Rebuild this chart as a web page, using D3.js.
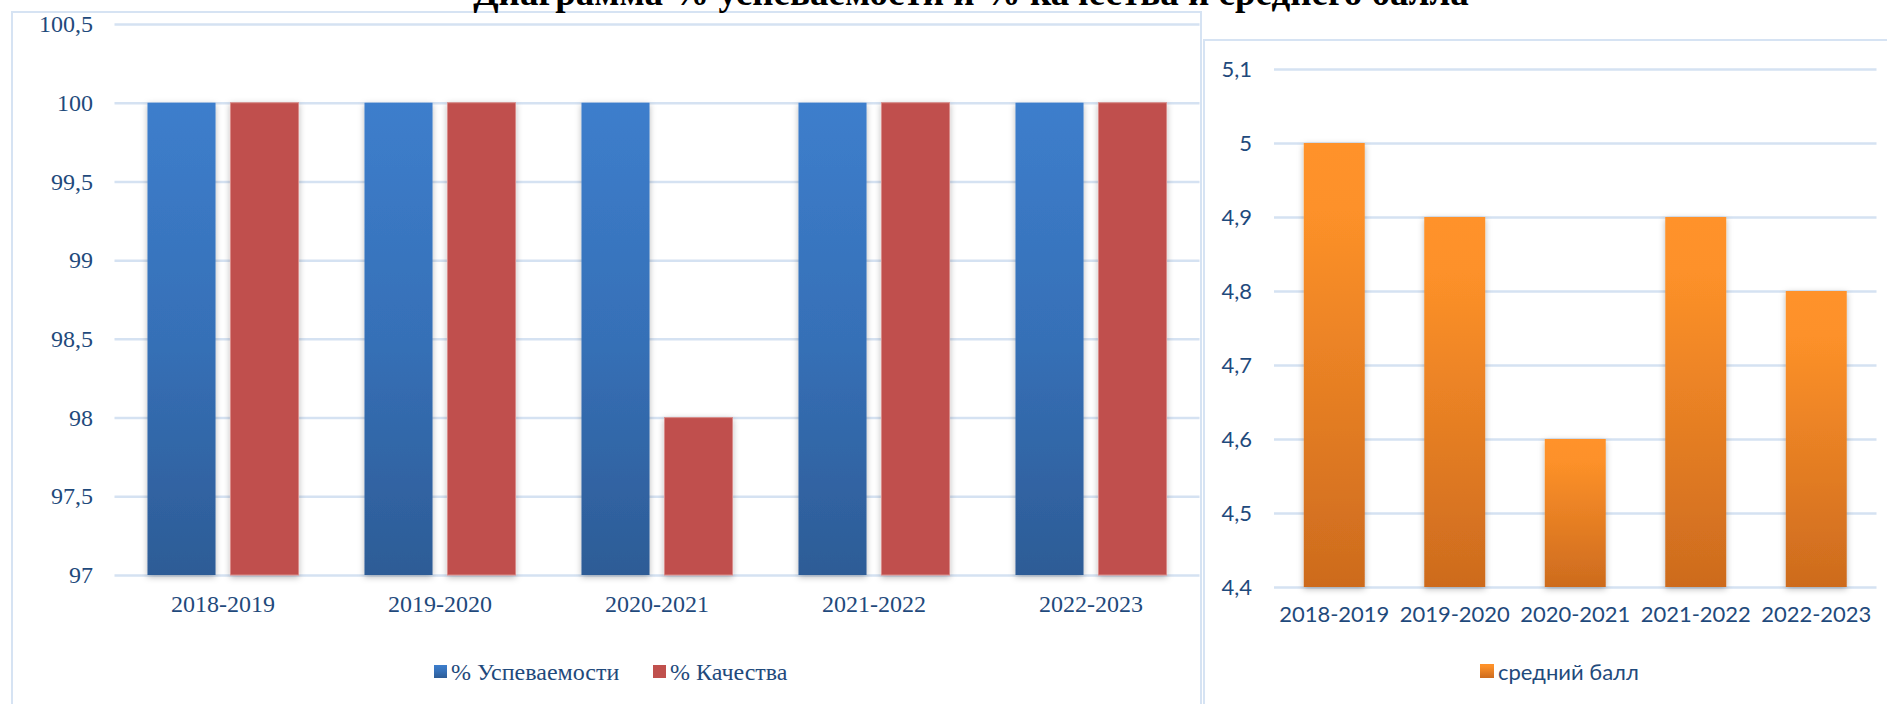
<!DOCTYPE html>
<html><head><meta charset="utf-8">
<script src="https://cdn.jsdelivr.net/npm/d3@7"></script>
<style>
html,body{margin:0;padding:0;background:#fff;overflow:hidden;}
svg{display:block;}
</style></head>
<body>
<svg id="c" width="1887" height="704"></svg>
<script>
const titleText = "Диаграмма % успеваемости и % качества и среднего балла";
const categories = ["2018-2019","2019-2020","2020-2021","2021-2022","2022-2023"];
const seriesNames = ["% Успеваемости","% Качества"];
const uspevaemost = [100,100,100,100,100];
const kachestvo = [100,100,98,100,100];
const leftTicks = [97,97.5,98,98.5,99,99.5,100,100.5];
const avgName = "средний балл";
const avgScore = [5,4.9,4.6,4.9,4.8];
const rightTicks = [4.4,4.5,4.6,4.7,4.8,4.9,5,5.1];

const svg = d3.select("#c");
const textCol = "#1F4A7C";
const gridCol = "#D5E2F2";
const frameCol = "#D6E3F3";
const fmt = v => String(v).replace(".", ",");

const defs = svg.append("defs");
function grad(id, stops){
  const g = defs.append("linearGradient").attr("id", id).attr("x1",0).attr("y1",0).attr("x2",0).attr("y2",1);
  stops.forEach(s => g.append("stop").attr("offset", s[0]).attr("stop-color", s[1]));
}
grad("gBlue", [[0,"#3D7ECC"],[0.5,"#3670B7"],[1,"#2D5C96"]]);
grad("gOrange", [[0,"#FF9229"],[0.15,"#FD9129"],[1,"#CD6B1E"]]);
const f = defs.append("filter").attr("id","sh").attr("x","-20%").attr("y","-5%").attr("width","140%").attr("height","112%");
f.append("feDropShadow").attr("dx",0).attr("dy",2).attr("stdDeviation",3).attr("flood-color","#000").attr("flood-opacity",0.28);

// ---------- Left chart ----------
svg.append("rect").attr("x",12).attr("y",12).attr("width",1189).attr("height",720)
  .attr("fill","#fff").attr("stroke",frameCol).attr("stroke-width",2);

const L = {x0:114.5, x1:1199.5, yTop:24, yBot:575};
const yL = d3.scaleLinear().domain([97,100.5]).range([L.yBot, L.yTop]);
const pL = 0.304;
const xL = d3.scaleBand().domain(categories).range([L.x0, L.x1]).paddingInner(pL).paddingOuter(pL/2);
const xInner = d3.scaleBand().domain(seriesNames).range([0, xL.bandwidth()]).paddingInner(0.18);

const gyL = svg.append("g").attr("transform",`translate(${L.x0},0)`)
  .call(d3.axisLeft(yL).tickValues(leftTicks).tickFormat(fmt).tickSize(-(L.x1-L.x0)).tickPadding(21.5));
gyL.select(".domain").remove();
gyL.selectAll("line").attr("stroke",gridCol).attr("stroke-width",2.5);
gyL.selectAll("text").attr("fill",textCol).style("font-family","'Liberation Serif','Times New Roman',serif").style("font-size","24px");

const leftData = [uspevaemost, kachestvo];
const fills = ["url(#gBlue)","#C0504D"];
categories.forEach((c,i) => {
  seriesNames.forEach((s,j) => {
    const v = leftData[j][i];
    svg.append("rect")
      .attr("x", xL(c) + xInner(s))
      .attr("y", yL(v))
      .attr("width", xInner.bandwidth())
      .attr("height", yL(97) - yL(v))
      .attr("fill", fills[j])
      .attr("stroke", j===1 ? "#D98C8A" : "none").attr("stroke-width", j===1?1:0)
      .attr("filter","url(#sh)");
  });
});

const gxL = svg.append("g").attr("transform",`translate(0,${L.yBot})`)
  .call(d3.axisBottom(xL).tickSize(0).tickPadding(20));
gxL.select(".domain").remove();
gxL.selectAll("text").attr("fill",textCol).style("font-family","'Liberation Serif','Times New Roman',serif").style("font-size","24px");

// Left legend
const legL = svg.append("g");
const legItems = [{name:seriesNames[0], fill:"url(#gBlue)", x:434},{name:seriesNames[1], fill:"#C0504D", x:653}];
legItems.forEach(d => {
  legL.append("rect").attr("x",d.x).attr("y",665).attr("width",13).attr("height",13).attr("fill",d.fill);
  legL.append("text").attr("x",d.x+17).attr("y",680).text(d.name)
    .attr("fill",textCol).style("font-family","'Liberation Serif','Times New Roman',serif").style("font-size","24px");
});

// ---------- Right chart ----------
svg.append("rect").attr("x",1204).attr("y",40).attr("width",700).attr("height",700)
  .attr("fill","#fff").attr("stroke",frameCol).attr("stroke-width",2);

const R = {x0:1274, x1:1876.5, yTop:69, yBot:587};
const yR = d3.scaleLinear().domain([4.4,5.1]).range([R.yBot, R.yTop]);
const pR = 0.494;
const xR = d3.scaleBand().domain(categories).range([R.x0, R.x1]).paddingInner(pR).paddingOuter(pR/2);
const sansFont = "Lato, 'Open Sans', sans-serif";

const gyR = svg.append("g").attr("transform",`translate(${R.x0},0)`)
  .call(d3.axisLeft(yR).tickValues(rightTicks).tickFormat(fmt).tickSize(-(R.x1-R.x0)).tickPadding(22));
gyR.select(".domain").remove();
gyR.selectAll("line").attr("stroke",gridCol).attr("stroke-width",2.5);
gyR.selectAll("text").attr("fill",textCol).style("font-family",sansFont).style("font-size","22px");

svg.append("g").selectAll("rect").data(avgScore).join("rect")
  .attr("x",(d,i)=>xR(categories[i]))
  .attr("y",d=>yR(d))
  .attr("width",xR.bandwidth())
  .attr("height",d=>yR(4.4)-yR(d))
  .attr("fill","url(#gOrange)")
  .attr("filter","url(#sh)");

const gxR = svg.append("g").attr("transform",`translate(0,${R.yBot})`)
  .call(d3.axisBottom(xR).tickSize(0).tickPadding(19));
gxR.select(".domain").remove();
gxR.selectAll("text").attr("fill",textCol).style("font-family",sansFont).style("font-size","22px");

svg.append("rect").attr("x",1480).attr("y",664).attr("width",14).attr("height",14).attr("fill","url(#gOrange)");
svg.append("text").attr("x",1498).attr("y",680).text(avgName)
  .attr("fill",textCol).style("font-family",sansFont).style("font-size","22px");

// ---------- Title ----------
svg.append("text").attr("x",971).attr("y",5).attr("text-anchor","middle").text(titleText)
  .style("font-family","'Liberation Serif','Times New Roman',serif").style("font-weight","bold").style("font-size","37px").attr("fill","#000");
</script>
</body></html>
